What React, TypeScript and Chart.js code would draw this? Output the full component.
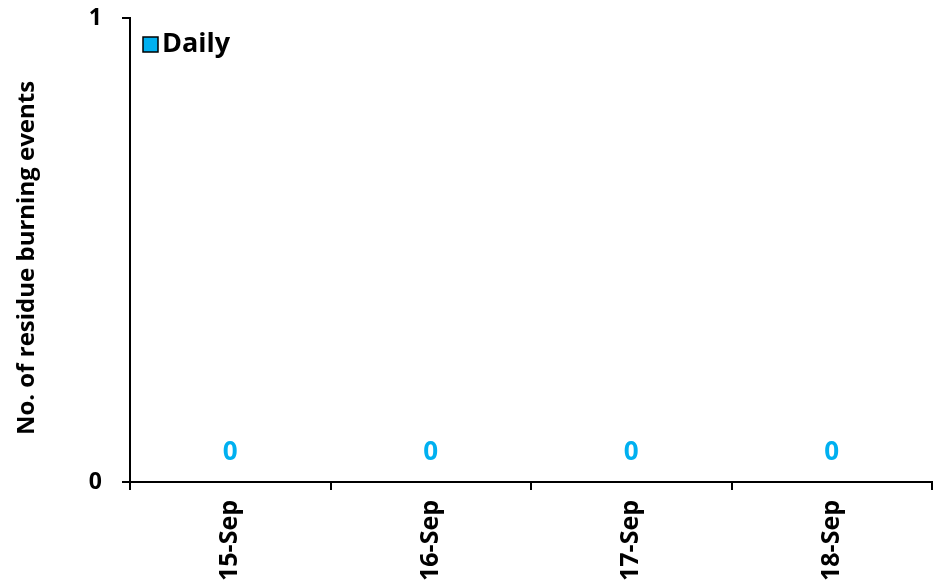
import React, { useEffect, useRef } from "react";
import { Chart, registerables } from "chart.js";

Chart.register(...registerables);

const categories = ["15-Sep", "16-Sep", "17-Sep", "18-Sep"];
const dailyValues = [0, 0, 0, 0];
const yTickValues = [0, 1];
const seriesName = "Daily";
const yTitle = "No. of residue burning events";

const FONT = "'Open Sans'";
const BLUE = "#00B0F0";

const dataLabels = {
  id: "dataLabels",
  afterDatasetsDraw(chart: any) {
    const ctx = chart.ctx;
    const meta = chart.getDatasetMeta(0);
    ctx.save();
    ctx.fillStyle = BLUE;
    ctx.font = `bold 26px ${FONT}`;
    ctx.textAlign = "center";
    ctx.textBaseline = "middle";
    meta.data.forEach((el: any, i: number) => {
      ctx.fillText(String(dailyValues[i]), el.x, el.y - 29);
    });
    ctx.restore();
  },
};

const cornerLegend = {
  id: "cornerLegend",
  afterDraw(chart: any) {
    const ctx = chart.ctx;
    const ds = chart.data.datasets[0];
    const x = chart.chartArea.left + 13;
    const y = chart.chartArea.top + 19;
    ctx.save();
    ctx.fillStyle = ds.backgroundColor;
    ctx.fillRect(x, y, 15, 15);
    ctx.strokeStyle = "#000";
    ctx.lineWidth = 1.5;
    ctx.strokeRect(x, y, 15, 15);
    ctx.fillStyle = "#000";
    ctx.font = `bold 27px ${FONT}`;
    ctx.textAlign = "left";
    ctx.textBaseline = "middle";
    ctx.fillText(ds.label, x + 19, y + 7);
    ctx.restore();
  },
};

const sideTitle = {
  id: "sideTitle",
  afterDraw(chart: any) {
    const ctx = chart.ctx;
    const ca = chart.chartArea;
    ctx.save();
    ctx.translate(27, (ca.top + ca.bottom) / 2 + 8);
    ctx.rotate(-Math.PI / 2);
    ctx.fillStyle = "#000";
    ctx.font = `bold 24px ${FONT}`;
    ctx.textAlign = "center";
    ctx.textBaseline = "middle";
    ctx.fillText(yTitle, 0, 0);
    ctx.restore();
  },
};

export default function App() {
  const ref = useRef<HTMLCanvasElement | null>(null);
  useEffect(() => {
    document.body.style.margin = "0";
    const chart = new Chart(ref.current!, {
      type: "bar",
      data: {
        labels: categories,
        datasets: [
          {
            label: seriesName,
            data: dailyValues,
            backgroundColor: BLUE,
            borderColor: "#000",
            borderWidth: 1,
          },
        ],
      },
      options: {
        animation: false,
        responsive: true,
        maintainAspectRatio: false,
        layout: { padding: { top: 18, left: 0, right: 3, bottom: 0 } },
        plugins: {
          legend: { display: false },
          tooltip: { enabled: false },
        },
        scales: {
          x: {
            grid: { drawOnChartArea: false, tickLength: 8, color: "#000", lineWidth: 2 },
            border: { display: true, color: "#000", width: 2 },
            ticks: {
              minRotation: 90,
              maxRotation: 90,
              padding: 10,
              color: "#000",
              font: { family: FONT, size: 25, weight: "bold" },
            },
            afterFit(scale: any) {
              scale.height = 105;
            },
          },
          y: {
            min: 0,
            max: 1,
            afterBuildTicks(scale: any) {
              scale.ticks = yTickValues.map((v) => ({ value: v }));
            },
            grid: { drawOnChartArea: false, tickLength: 8, color: "#000", lineWidth: 2 },
            border: { display: true, color: "#000", width: 2 },
            ticks: {
              padding: 20,
              color: "#000",
              font: { family: FONT, size: 23, weight: "bold" },
            },
            afterFit(scale: any) {
              scale.width = 130;
              scale.paddingTop = 12;
              scale.paddingBottom = 12;
            },
          },
        },
      },
      plugins: [dataLabels, cornerLegend, sideTitle],
    });
    return () => chart.destroy();
  }, []);
  return (
    <div style={{ width: 935, height: 587, position: "relative" }}>
      <canvas ref={ref} />
    </div>
  );
}
